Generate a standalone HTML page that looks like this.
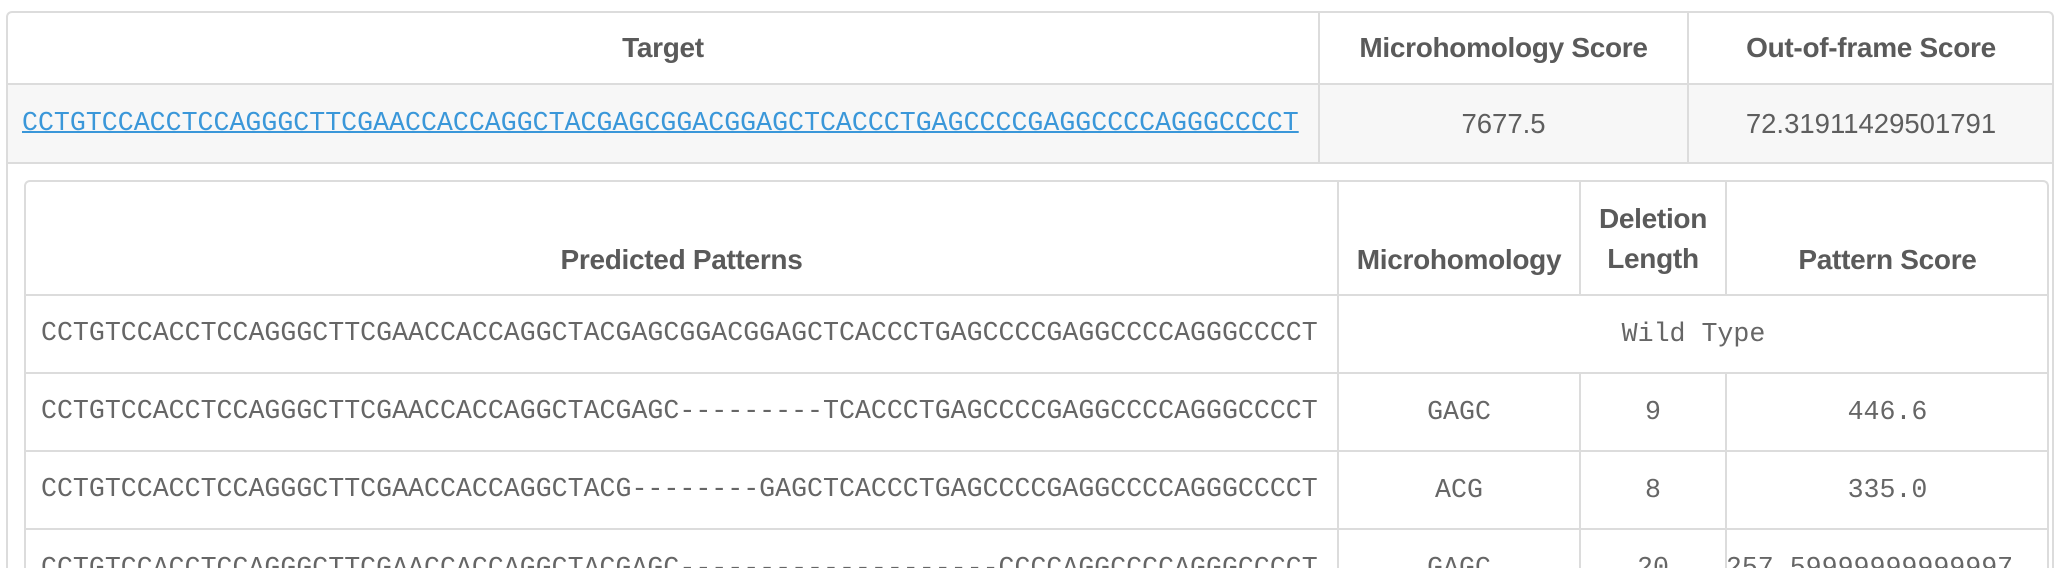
<!DOCTYPE html>
<html><head><meta charset="utf-8"><style>
*{box-sizing:border-box;margin:0;padding:0}
html,body{width:2059px;height:568px;overflow:hidden}
body{background:#fff;position:relative;font-family:"Liberation Sans",sans-serif;color:#5e5e5e}
.a{position:absolute;white-space:nowrap}
.c{position:absolute;display:flex;align-items:center;justify-content:center;text-align:center;white-space:nowrap}
.h{font-weight:bold;font-size:28px;color:#5a5a5a;letter-spacing:-0.3px}
.m{font-family:"Liberation Mono",monospace;font-size:26.6px;color:#666;line-height:30px}
.n{font-size:27.5px;color:#5e5e5e}
.hl{position:absolute;height:2px;background:#dcdcdc}
.vl{position:absolute;width:2px;background:#dcdcdc}
</style></head><body>
<div class="a" style="left:6px;top:11px;width:2048px;height:557px;border:2px solid #dcdcdc;border-bottom:none;border-radius:6px 6px 0 0"></div>
<div class="a" style="left:8px;top:85px;width:2044px;height:78px;background:#f7f7f7"></div>
<div class="hl" style="left:7px;top:83px;width:2046px"></div>
<div class="hl" style="left:7px;top:162px;width:2046px"></div>
<div class="vl" style="left:1318px;top:12px;height:151px"></div>
<div class="vl" style="left:1687px;top:12px;height:151px"></div>
<div class="c h" style="left:8px;top:12px;width:1310px;height:72px">Target</div>
<div class="c h" style="left:1320px;top:12px;width:367px;height:72px">Microhomology Score</div>
<div class="c h" style="left:1689px;top:12px;width:364px;height:72px">Out-of-frame Score</div>
<a class="a m" href="#" style="left:22px;top:108px;color:#3a97d9;text-decoration:underline;text-decoration-thickness:2px">CCTGTCCACCTCCAGGGCTTCGAACCACCAGGCTACGAGCGGACGGAGCTCACCCTGAGCCCCGAGGCCCCAGGGCCCCT</a>
<div class="c n" style="left:1320px;top:85px;width:367px;height:78px">7677.5</div>
<div class="c n" style="left:1689px;top:85px;width:364px;height:78px">72.31911429501791</div>

<div class="a" style="left:24px;top:180px;width:2025px;height:388px;border:2px solid #dcdcdc;border-bottom:none;border-radius:6px 6px 0 0"></div>
<div class="hl" style="left:25px;top:294px;width:2023px"></div>
<div class="hl" style="left:25px;top:372px;width:2023px"></div>
<div class="hl" style="left:25px;top:450px;width:2023px"></div>
<div class="hl" style="left:25px;top:528px;width:2023px"></div>
<div class="vl" style="left:1337px;top:181px;height:387px"></div>
<div class="vl" style="left:1579px;top:181px;height:114px"></div>
<div class="vl" style="left:1725px;top:181px;height:114px"></div>
<div class="vl" style="left:1579px;top:373px;height:195px"></div>
<div class="vl" style="left:1725px;top:373px;height:195px"></div>
<div class="c h" style="left:26px;top:240px;width:1311px;height:40px">Predicted Patterns</div>
<div class="c h" style="left:1339px;top:240px;width:240px;height:40px">Microhomology</div>
<div class="c h" style="left:1581px;top:199px;width:144px;height:80px;line-height:40px;white-space:normal">Deletion<br>Length</div>
<div class="c h" style="left:1727px;top:240px;width:321px;height:40px">Pattern Score</div>

<div class="a m" style="left:41px;top:318px">CCTGTCCACCTCCAGGGCTTCGAACCACCAGGCTACGAGCGGACGGAGCTCACCCTGAGCCCCGAGGCCCCAGGGCCCCT</div>
<div class="c m" style="left:1339px;top:296px;width:709px;height:76px">Wild Type</div>

<div class="a m" style="left:41px;top:396px">CCTGTCCACCTCCAGGGCTTCGAACCACCAGGCTACGAGC---------TCACCCTGAGCCCCGAGGCCCCAGGGCCCCT</div>
<div class="c m" style="left:1339px;top:374px;width:240px;height:76px">GAGC</div>
<div class="c m" style="left:1581px;top:374px;width:144px;height:76px">9</div>
<div class="c m" style="left:1727px;top:374px;width:321px;height:76px">446.6</div>

<div class="a m" style="left:41px;top:474px">CCTGTCCACCTCCAGGGCTTCGAACCACCAGGCTACG--------GAGCTCACCCTGAGCCCCGAGGCCCCAGGGCCCCT</div>
<div class="c m" style="left:1339px;top:452px;width:240px;height:76px">ACG</div>
<div class="c m" style="left:1581px;top:452px;width:144px;height:76px">8</div>
<div class="c m" style="left:1727px;top:452px;width:321px;height:76px">335.0</div>

<div class="a m" style="left:41px;top:553px">CCTGTCCACCTCCAGGGCTTCGAACCACCAGGCTACGAGC--------------------CCCCAGGCCCCAGGGCCCCT</div>
<div class="a m" style="left:1339px;top:553px;width:240px;text-align:center">GAGC</div>
<div class="a m" style="left:1581px;top:553px;width:144px;text-align:center">20</div>
<div class="a m" style="left:1709px;top:553px;width:321px;text-align:center">257.59999999999997</div>
</body></html>
